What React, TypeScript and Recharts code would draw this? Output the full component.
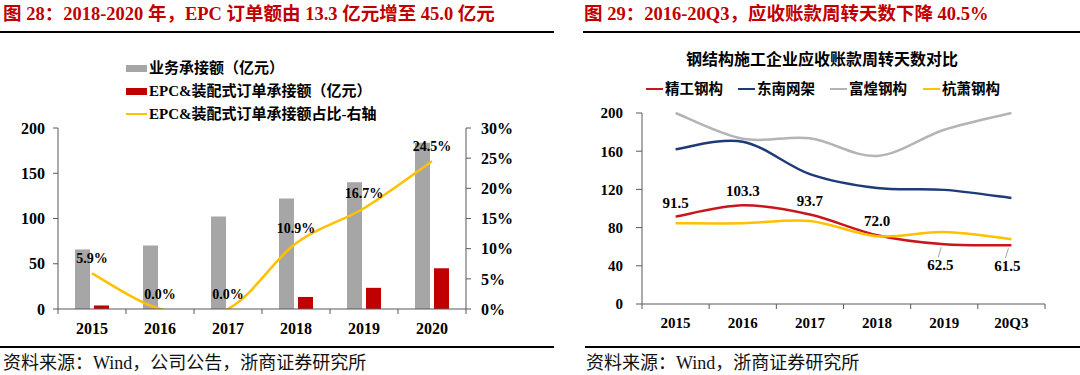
import React from 'react';
import { ComposedChart, Bar, Line, XAxis, YAxis, LabelList } from 'recharts';

// ---------- Left panel data ----------
const years = ['2015', '2016', '2017', '2018', '2019', '2020'];
const businessOrders = [65.8, 70.2, 102.2, 122.0, 140.0, 183.7];
const epcOrders = [3.9, 0, 0, 13.3, 23.4, 45.0];
const epcShare = [5.9, 0.0, 0.0, 10.9, 16.7, 24.5];
const leftTicks = [0, 50, 100, 150, 200];
const shareTicks = [0, 5, 10, 15, 20, 25, 30];

// ---------- Right panel data ----------
const periods = ['2015', '2016', '2017', '2018', '2019', '20Q3'];
const jinggong = [91.5, 103.3, 93.7, 72.0, 62.5, 61.5];
const dongnan = [162, 170, 136, 121.5, 119.5, 111];
const fuhuang = [200, 173, 173.5, 155, 182.5, 200];
const hangxiao = [84.5, 84.5, 87, 71, 75.5, 68];
const dayTicks = [0, 40, 80, 120, 160, 200];

const leftLegend = [
  { name: '业务承接额（亿元）', color: '#A6A6A6', kind: 'bar' },
  { name: 'EPC&装配式订单承接额（亿元）', color: '#C00000', kind: 'bar' },
  { name: 'EPC&装配式订单承接额占比-右轴', color: '#FFC000', kind: 'line' },
];
const rightSeries = [
  { key: 'jg', name: '精工钢构', color: '#C8161D' },
  { key: 'dn', name: '东南网架', color: '#1F3A78' },
  { key: 'fh', name: '富煌钢构', color: '#B4B4B4' },
  { key: 'hx', name: '杭萧钢构', color: '#FFC000' },
];

const leftData = years.map((y, i) => ({ year: y, biz: businessOrders[i], epc: epcOrders[i], share: epcShare[i] }));
const rightData = periods.map((p, i) => ({ p, jg: jinggong[i], dn: dongnan[i], fh: fuhuang[i], hx: hangxiao[i] }));

const FONT = "'Liberation Serif', 'Noto Sans CJK SC', serif";
const AX = '#595959';

// Excel-like smoothed curve (Catmull-Rom as Bezier)
const excelSmooth: any = (context: any) => {
  let pts: number[][] = [];
  return {
    areaStart() {},
    areaEnd() {},
    lineStart() {
      pts = [];
    },
    point(x: number, y: number) {
      pts.push([+x, +y]);
    },
    lineEnd() {
      const n = pts.length;
      if (n === 0) return;
      context.moveTo(pts[0][0], pts[0][1]);
      for (let i = 0; i < n - 1; i++) {
        const p0 = pts[i - 1] || pts[i];
        const p1 = pts[i];
        const p2 = pts[i + 1];
        const p3 = pts[i + 2] || pts[i + 1];
        context.bezierCurveTo(
          p1[0] + (p2[0] - p0[0]) / 6,
          p1[1] + (p2[1] - p0[1]) / 6,
          p2[0] - (p3[0] - p1[0]) / 6,
          p2[1] - (p3[1] - p1[1]) / 6,
          p2[0],
          p2[1]
        );
      }
    },
  };
};

const BoundaryTick = (props: any) => {
  const { x, y, payload, index, bw, count, fontSize, dy } = props;
  const half = bw / 2;
  return (
    <g>
      <line x1={x - half} y1={y} x2={x - half} y2={y + 5} stroke={AX} />
      {index === count - 1 && <line x1={x + half} y1={y} x2={x + half} y2={y + 5} stroke={AX} />}
      <text x={x} y={y + dy} textAnchor="middle" fontSize={fontSize} fontWeight="bold" fontFamily={FONT} fill="#000">
        {payload.value}
      </text>
    </g>
  );
};

const shareLabel = (props: any) => {
  const { x, y, value } = props;
  return (
    <text x={x} y={y - 10} textAnchor="middle" fontSize={14} fontWeight="bold" fontFamily={FONT} fill="#000">
      {Number(value).toFixed(1)}%
    </text>
  );
};

const daysLabel = (props: any) => {
  const { x, y, value, index } = props;
  const below = index >= 4;
  if (below) {
    return (
      <g>
        <line x1={x - 3} y1={y + 3} x2={x - 6} y2={y + 13} stroke="#A6A6A6" strokeWidth={1} />
        <text x={x - 4} y={y + 26} textAnchor="middle" fontSize={15} fontWeight="bold" fontFamily={FONT} fill="#000">
          {Number(value).toFixed(1)}
        </text>
      </g>
    );
  }
  return (
    <text x={x} y={y - 9} textAnchor="middle" fontSize={15} fontWeight="bold" fontFamily={FONT} fill="#000">
      {Number(value).toFixed(1)}
    </text>
  );
};

const abs = (s: React.CSSProperties): React.CSSProperties => ({ position: 'absolute', ...s });

export default function App() {
  const titleStyle: React.CSSProperties = {
    fontFamily: FONT,
    fontWeight: 'bold',
    fontSize: 18.5,
    lineHeight: '18px',
    color: '#C00000',
    whiteSpace: 'nowrap',
  };
  const footStyle: React.CSSProperties = {
    fontFamily: FONT,
    fontSize: 18,
    lineHeight: '18px',
    color: '#111',
    whiteSpace: 'nowrap',
  };
  const legendText: React.CSSProperties = {
    fontFamily: FONT,
    fontWeight: 'bold',
    fontSize: 15,
    lineHeight: '16px',
    color: '#000',
    whiteSpace: 'nowrap',
  };
  return (
    <div style={abs({ left: 0, top: 0, width: 1080, height: 375, background: '#fff', overflow: 'hidden' })}>
      {/* titles */}
      <div style={abs({ left: 3, top: 5, ...titleStyle })}>图 28：2018-2020 年，EPC 订单额由 13.3 亿元增至 45.0 亿元</div>
      <div style={abs({ left: 584, top: 5, ...titleStyle })}>图 29：2016-20Q3，应收账款周转天数下降 40.5%</div>
      <div style={abs({ left: 0, top: 31, width: 554, height: 2, background: '#000' })} />
      <div style={abs({ left: 583, top: 31, width: 497, height: 2, background: '#000' })} />
      <div style={abs({ left: 0, top: 346, width: 554, height: 2, background: '#000' })} />
      <div style={abs({ left: 585, top: 346, width: 495, height: 2, background: '#000' })} />
      <div style={abs({ left: 3, top: 354, ...footStyle })}>资料来源：Wind，公司公告，浙商证券研究所</div>
      <div style={abs({ left: 586, top: 354, ...footStyle })}>资料来源：Wind，浙商证券研究所</div>

      {/* left chart */}
      <div style={abs({ left: 0, top: 0 })}>
        <ComposedChart width={540} height={375} data={leftData} margin={{ top: 128, right: 0, bottom: 36, left: 0 }} barSize={15} barGap={4}>
          <XAxis
            dataKey="year"
            scale="band"
            height={30}
            interval={0}
            axisLine={{ stroke: AX }}
            tickLine={false}
            tickSize={0}
            tickMargin={0}
            tick={<BoundaryTick bw={68} count={years.length} fontSize={16} dy={25} />}
          />
          <YAxis
            yAxisId="l"
            width={58}
            domain={[0, 200]}
            ticks={leftTicks}
            interval={0}
            axisLine={{ stroke: AX }}
            tickLine={{ stroke: AX }}
            tickSize={5}
            tickMargin={8}
            tick={{ fontSize: 16, fontWeight: 'bold', fontFamily: FONT, fill: '#000' }}
          />
          <YAxis
            yAxisId="r"
            orientation="right"
            width={74}
            domain={[0, 30]}
            allowDataOverflow
            ticks={shareTicks}
            interval={0}
            tickFormatter={(v: number) => `${v}%`}
            axisLine={{ stroke: AX }}
            tickLine={{ stroke: AX }}
            tickSize={5}
            tickMargin={10}
            tick={{ fontSize: 16, fontWeight: 'bold', fontFamily: FONT, fill: '#000', textAnchor: 'start' }}
          />
          <Bar yAxisId="l" dataKey="biz" fill="#A6A6A6" isAnimationActive={false} />
          <Bar yAxisId="l" dataKey="epc" fill="#C00000" isAnimationActive={false} />
          <Line yAxisId="r" dataKey="share" type={excelSmooth} stroke="#FFC000" strokeWidth={2.5} dot={false} isAnimationActive={false}>
            <LabelList dataKey="share" content={shareLabel} />
          </Line>
        </ComposedChart>
      </div>

      {/* left legend */}
      {leftLegend.map((l, i) => (
        <div key={l.name} style={abs({ left: 126, top: 60 + i * 23, height: 16, display: 'flex', alignItems: 'center' })}>
          <div
            style={{
              width: 21,
              height: l.kind === 'bar' ? 7 : 2.5,
              background: l.color,
              marginRight: 2,
            }}
          />
          <span style={legendText}>{l.name}</span>
        </div>
      ))}

      {/* right chart title and legend */}
      <div
        style={abs({
          left: 822 - 200,
          top: 51,
          width: 400,
          textAlign: 'center',
          fontFamily: FONT,
          fontWeight: 'bold',
          fontSize: 16,
          lineHeight: '18px',
          color: '#000',
        })}
      >
        钢结构施工企业应收账款周转天数对比
      </div>
      {rightSeries.map((s, i) => (
        <div key={s.key} style={abs({ left: [646, 738, 830, 923][i], top: 81, height: 16, display: 'flex', alignItems: 'center' })}>
          <div style={{ width: 17, height: 2.5, background: s.color, marginRight: 2 }} />
          <span style={{ ...legendText, fontSize: 14.5 }}>{s.name}</span>
        </div>
      ))}

      {/* right chart */}
      <div style={abs({ left: 540, top: 0 })}>
        <ComposedChart width={540} height={375} data={rightData} margin={{ top: 113, right: 35, bottom: 41, left: 60 }}>
          <XAxis
            dataKey="p"
            scale="band"
            height={30}
            interval={0}
            axisLine={{ stroke: AX }}
            tickLine={false}
            tickSize={0}
            tickMargin={0}
            tick={<BoundaryTick bw={403 / 6} count={periods.length} fontSize={15} dy={24} />}
          />
          <YAxis
            width={42}
            domain={[0, 200]}
            ticks={dayTicks}
            interval={0}
            axisLine={{ stroke: AX }}
            tickLine={{ stroke: AX }}
            tickSize={6}
            tickMargin={13}
            tick={{ fontSize: 15, fontWeight: 'bold', fontFamily: FONT, fill: '#000' }}
          />
          {rightSeries.map((s) => (
            <Line
              key={s.key}
              dataKey={s.key}
              type={excelSmooth}
              stroke={s.color}
              strokeWidth={2.5}
              dot={false}
              isAnimationActive={false}
            >
              {s.key === 'jg' ? <LabelList dataKey="jg" content={daysLabel} /> : null}
            </Line>
          ))}
        </ComposedChart>
      </div>
    </div>
  );
}
